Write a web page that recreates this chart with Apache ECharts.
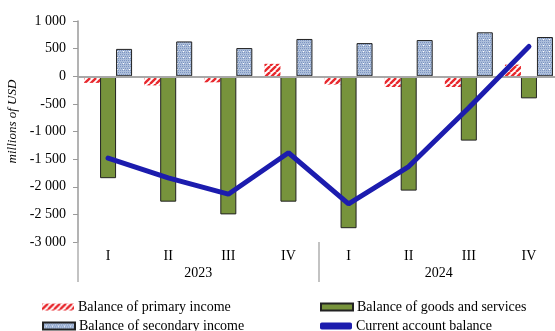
<!DOCTYPE html>
<html>
<head>
<meta charset="utf-8">
<script src="https://cdn.jsdelivr.net/npm/echarts@6/dist/echarts.min.js"></script>
<style>
  html, body { margin: 0; padding: 0; background: #fff; }
  #chart { width: 555px; height: 331px; }
</style>
</head>
<body>
<div id="chart"></div>
<script>
const quarters = ['I', 'II', 'III', 'IV', 'I', 'II', 'III', 'IV']
const years = ['2023', '2024']
const primaryIncome = [-120, -165, -110, 225, -150, -195, -195, 210]
const goodsServices = [-1845, -2270, -2500, -2270, -2750, -2070, -1165, -400]
const secondaryIncome = [495, 630, 510, 675, 600, 655, 795, 710]
const currentAccount = [-1480, -1840, -2135, -1385, -2310, -1635, -570, 540]

const font = 'Liberation Serif'

// red diagonal hatch
function hatchPattern() {
  const c = document.createElement('canvas')
  c.width = 6
  c.height = 6
  const ctx = c.getContext('2d')
  ctx.fillStyle = '#fff'
  ctx.fillRect(0, 0, 6, 6)
  ctx.strokeStyle = '#e8282d'
  ctx.lineWidth = 2.4
  for (let k = -6; k <= 12; k += 6) {
    ctx.beginPath()
    ctx.moveTo(k, 6)
    ctx.lineTo(k + 6, 0)
    ctx.stroke()
  }
  return c
}

// blue dotted texture
function dotPattern() {
  const c = document.createElement('canvas')
  c.width = 6
  c.height = 6
  const ctx = c.getContext('2d')
  ctx.fillStyle = '#adbfdb'
  ctx.fillRect(0, 0, 6, 6)
  ctx.fillStyle = '#7d95c2'
  for (let y = 0; y < 6; y += 2) {
    for (let x = (y / 2) % 2; x < 6; x += 2) ctx.fillRect(x, y, 1, 1)
  }
  ctx.fillStyle = '#fff'
  ctx.fillRect(3, 3, 1, 1)
  return c
}

const chart = echarts.init(document.getElementById('chart'))
const textStyle = { fontFamily: font, fontSize: 14, color: '#000' }

// one legend per entry so the 2x2 layout is fixed
function legendItem(name, icon, left, top) {
  return {
    left,
    top,
    itemWidth: 32,
    itemHeight: 7,
    itemGap: 4,
    textStyle: { ...textStyle, padding: [0, 0, 0, -1] },
    data: [{ name, icon }]
  }
}

chart.setOption({
  animation: false,
  textStyle,
  grid: { left: 78, right: -4, top: 21, bottom: 89, outerBoundsMode: 'none', containLabel: false },
  legend: [
    legendItem('Balance of primary income', 'rect', 37, 295),
    legendItem('Balance of secondary income', 'rect', 37, 314),
    legendItem('Balance of goods and services', 'rect', 315, 295),
    legendItem('Current account balance', 'roundRect', 315, 314)
  ],
  xAxis: [
    {
      type: 'category',
      data: quarters,
      position: 'bottom',
      axisLine: { show: false },
      axisTick: { show: false },
      axisLabel: { margin: 7, ...textStyle }
    },
    {
      type: 'category',
      data: years,
      position: 'bottom',
      axisLine: { show: false },
      axisTick: { show: true, length: 40, lineStyle: { color: '#b0b0b0', width: 1.5 } },
      axisLabel: { margin: 24, ...textStyle }
    }
  ],
  yAxis: {
    type: 'value',
    min: -3000,
    max: 1000,
    interval: 500,
    name: 'millions of USD',
    nameLocation: 'middle',
    nameGap: 57,
    nameTextStyle: { fontFamily: font, fontSize: 13, fontStyle: 'italic', color: '#000', padding: [0, 0, 0, 20] },
    axisLine: { show: true, lineStyle: { color: '#9a9a9a', width: 1.5 } },
    axisTick: { show: true, length: 5, lineStyle: { color: '#9a9a9a' } },
    splitLine: { show: false },
    axisLabel: {
      margin: 12,
      ...textStyle,
      formatter: v => {
        const s = Math.abs(v).toString().replace(/\B(?=(\d{3})+(?!\d))/g, ' ')
        return (v < 0 ? '-' : '') + s
      }
    }
  },
  series: [
    {
      name: 'Balance of primary income',
      type: 'bar',
      barWidth: 16,
      barGap: '0%',
      data: primaryIncome,
      itemStyle: { color: { image: hatchPattern(), repeat: 'repeat' } },
      markLine: {
        silent: true,
        symbol: 'none',
        label: { show: false },
        lineStyle: { color: '#a8a8a8', width: 2, type: 'solid' },
        data: [{ yAxis: 0 }]
      }
    },
    {
      name: 'Balance of goods and services',
      type: 'bar',
      barWidth: 16,
      barGap: '0%',
      data: goodsServices,
      itemStyle: { color: '#77933c', borderColor: '#222', borderWidth: 1 }
    },
    {
      name: 'Balance of secondary income',
      type: 'bar',
      barWidth: 16,
      barGap: '0%',
      data: secondaryIncome,
      itemStyle: { color: { image: dotPattern(), repeat: 'repeat' }, borderColor: '#222', borderWidth: 1 }
    },
    {
      name: 'Current account balance',
      type: 'line',
      data: currentAccount,
      symbol: 'none',
      z: 5,
      itemStyle: { color: '#1c1cae' },
      lineStyle: { color: '#1c1cae', width: 5, cap: 'round' }
    }
  ]
})
</script>
</body>
</html>
